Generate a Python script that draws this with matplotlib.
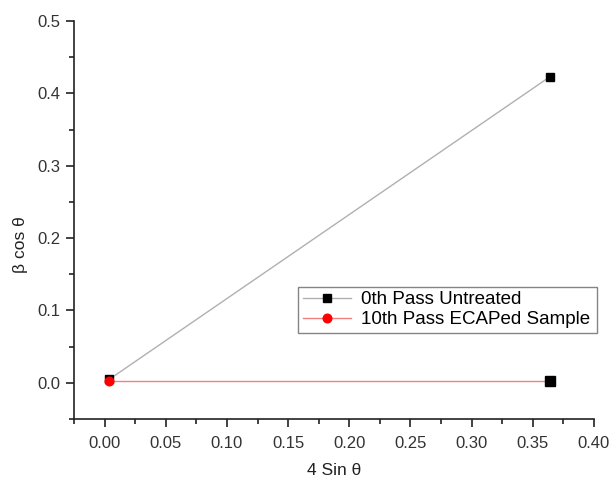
import matplotlib
matplotlib.use("Agg")
import matplotlib.pyplot as plt
from matplotlib.ticker import MultipleLocator

plt.rcParams['font.family'] = ['Liberation Sans', 'DejaVu Sans']

x_untreated = [0.004, 0.364]
y_untreated = [0.005, 0.423]
x_ecap = [0.004, 0.364]
y_ecap = [0.003, 0.003]
x_extra = [0.364]
y_extra = [0.003]

fig = plt.figure(figsize=(6.10, 4.79), dpi=100)
L, R, T, B = 74, 594, 21, 419
ax = fig.add_axes([L/610, 1-B/479, (R-L)/610, (B-T)/479])

ax.plot(x_untreated, y_untreated, color='#b0b0b0', lw=1, marker='s', ms=6,
        mfc='black', mec='black', label='0th Pass Untreated', zorder=2)
ax.plot(x_ecap, y_ecap, color='#f08080', lw=1, marker='o', ms=6.2,
        mfc='red', mec='red', label='10th Pass ECAPed Sample', zorder=3)
ax.plot(x_extra, y_extra, ls='none', marker='s', ms=6.6, mfc='black', mec='black', zorder=4)

ax.set_xlim(-0.025, 0.40)
ax.set_ylim(-0.05, 0.5)
ax.xaxis.set_major_locator(MultipleLocator(0.05))
ax.xaxis.set_minor_locator(MultipleLocator(0.025))
ax.yaxis.set_major_locator(MultipleLocator(0.1))
ax.yaxis.set_minor_locator(MultipleLocator(0.05))
ax.xaxis.set_major_formatter(plt.FormatStrFormatter('%.2f'))
ax.yaxis.set_major_formatter(plt.FormatStrFormatter('%.1f'))

for s in ['top', 'right']:
    ax.spines[s].set_visible(False)
for s in ['left', 'bottom']:
    ax.spines[s].set_linewidth(1.2)
    ax.spines[s].set_color('#222222')
ax.tick_params(which='major', direction='out', length=6, width=1.2, labelsize=12,
               colors='#222222', labelcolor='#333333', pad=4)
ax.tick_params(which='minor', direction='out', length=3.5, width=1.2, colors='#222222')
ax.tick_params(axis='x', pad=6)

ax.set_xlabel('4 Sin θ', fontsize=12.5, color='#222222')
ax.set_ylabel('β cos θ', fontsize=12.5, color='#222222')
ax.xaxis.set_label_coords(0.5, -(463 - B) / (B - T))
ax.yaxis.set_label_coords(-(L - 28) / (R - L), (B - 245) / (B - T))

leg = ax.legend(loc='lower left',
                bbox_to_anchor=((298 - L) / (R - L), (B - 333) / (B - T),
                                (597 - 298) / (R - L), (333 - 283) / (B - T)),
                mode='expand', fontsize=13.5, frameon=True, fancybox=False,
                edgecolor='#666666', borderpad=0.25, handlelength=2.6,
                handletextpad=0.5, labelspacing=0.15, borderaxespad=0)
leg.get_frame().set_linewidth(1.0)

fig.savefig('out.png', dpi=100)
